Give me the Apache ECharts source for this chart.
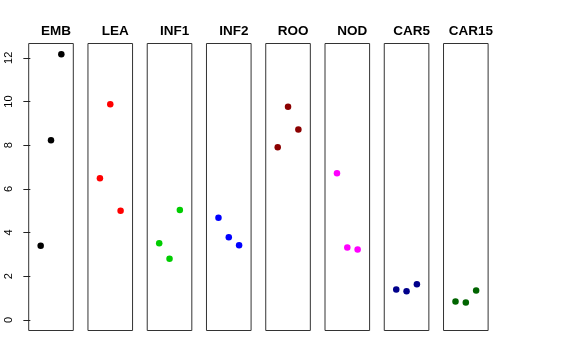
<!DOCTYPE html>
<html>
<head>
<meta charset="utf-8">
<script src="https://cdn.jsdelivr.net/npm/echarts@6/dist/echarts.min.js"></script>
<style>html,body{margin:0;padding:0;background:#fff}#c{width:576px;height:360px}</style>
</head>
<body>
<div id="c"></div>
<script>
const panels = ["EMB", "LEA", "INF1", "INF2", "ROO", "NOD", "CAR5", "CAR15"];
const colors = ["#000000", "#FF0000", "#00CD00", "#0000FF", "#8B0000", "#FF00FF", "#00008B", "#006400"];
const xPositions = [1, 2, 3];
const EMB = [3.39, 8.23, 12.17];
const LEA = [6.48, 9.88, 5.00];
const INF1 = [3.51, 2.80, 5.03];
const INF2 = [4.68, 3.78, 3.42];
const ROO = [7.91, 9.76, 8.72];
const NOD = [6.72, 3.31, 3.22];
const CAR5 = [1.39, 1.31, 1.63];
const CAR15 = [0.84, 0.79, 1.34];
const values = [EMB, LEA, INF1, INF2, ROO, NOD, CAR5, CAR15];
const yTicks = [0, 2, 4, 6, 8, 10, 12];

(function () {
  const yMaxData = 12.17, yMinData = 0;
  const ext = 0.04 * (yMaxData - yMinData);
  const yMin = yMinData - ext, yMax = yMaxData + ext;
  const xMin = 0 - 0.16, xMax = 4 + 0.16;

  const left0 = 28.7, step = 59.26, w = 44.6, gTop = 43.5, h = 287;
  const grids = [], xAxes = [], yAxes = [], series = [], titles = [];
  panels.forEach((name, i) => {
    const l = left0 + i * step;
    grids.push({left: l, top: gTop, width: w, height: h, show: true, borderColor: '#333', borderWidth: 1, containLabel: false});
    xAxes.push({type: 'value', gridIndex: i, min: xMin, max: xMax, show: false});
    yAxes.push({
      type: 'value', gridIndex: i, min: yMin, max: yMax,
      splitLine: {show: false},
      axisLine: {show: false},
      axisTick: {show: i === 0, length: 7, lineStyle: {color: '#222'}, customValues: yTicks},
      axisLabel: {show: i === 0, rotate: 90, fontSize: 11, color: '#000', margin: 14,
        fontFamily: 'Liberation Sans, Arial, sans-serif', customValues: yTicks}
    });
    series.push({
      type: 'scatter', xAxisIndex: i, yAxisIndex: i, symbolSize: 6.5,
      itemStyle: {color: colors[i], opacity: 1},
      data: values[i].map((v, k) => [xPositions[k], v])
    });
    titles.push({text: name, left: l + w / 2, top: 19, textAlign: 'center',
      textStyle: {fontSize: 13.5, fontWeight: 'bold', color: '#000', fontFamily: 'Liberation Sans, Arial, sans-serif'}});
  });

  const chart = echarts.init(document.getElementById('c'), null, {renderer: 'canvas'});
  chart.setOption({
    animation: false,
    backgroundColor: '#fff',
    title: titles,
    grid: grids,
    xAxis: xAxes,
    yAxis: yAxes,
    series: series
  });
})();
</script>
</body>
</html>
